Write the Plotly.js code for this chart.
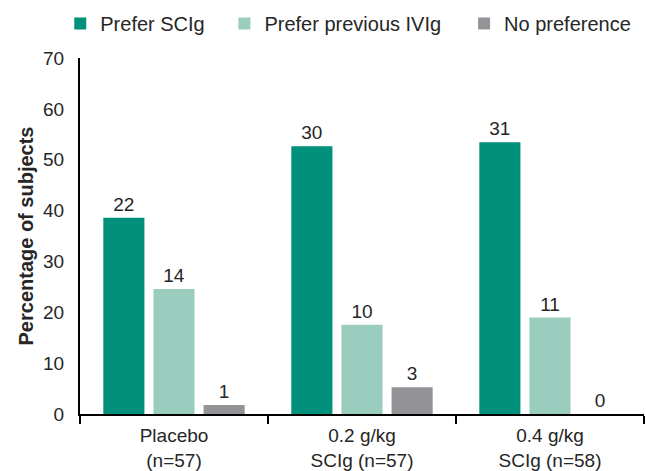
<!DOCTYPE html>
<html>
<head>
<meta charset="utf-8">
<script src="https://cdn.plot.ly/plotly-3.0.1.min.js"></script>
<style>
  html, body { margin: 0; padding: 0; background: #fff; }
  #chart { width: 646px; height: 471px; }
</style>
</head>
<body>
<div id="chart"></div>
<script>
// ---- data ----
const categories = ['Placebo<br>(n=57)', '0.2 g/kg<br>SCIg (n=57)', '0.4 g/kg<br>SCIg (n=58)'];
const nSubjects = [57, 57, 58];
const preferSCIg = [22, 30, 31];
const preferIVIg = [14, 10, 11];
const noPreference = [1, 3, 0];
const seriesNames = ['Prefer SCIg', 'Prefer previous IVIg', 'No preference'];
const yTicks = [0, 10, 20, 30, 40, 50, 60, 70];

const FONT = 'Liberation Sans, Arial, Helvetica, sans-serif';
const TXT = '#262626';
const colors = ['#00907B', '#9BCDBF', '#949498'];
const legendIds = ['legend', 'legend2', 'legend3'];
const legendX = [-0.035, 0.256, 0.681];

function pct(counts) { return counts.map((c, i) => c / nSubjects[i] * 100); }

const seriesCounts = [preferSCIg, preferIVIg, noPreference];
const traces = seriesCounts.map((counts, k) => ({
  type: 'bar',
  name: seriesNames[k],
  legend: legendIds[k],
  x: categories,
  y: pct(counts),
  text: counts.map(String),
  textposition: 'outside',
  textfont: { family: FONT, size: 19, color: TXT },
  cliponaxis: false,
  marker: { color: colors[k], line: { width: 0 } },
  hoverinfo: 'skip'
}));

const layout = {
  width: 646,
  height: 471,
  margin: { l: 80, r: 2, t: 58, b: 57, pad: 0 },
  paper_bgcolor: '#fff',
  plot_bgcolor: '#fff',
  font: { family: FONT, size: 19, color: TXT },
  barmode: 'group',
  bargap: 0.2,
  bargroupgap: 0.18,
  showlegend: true,
  xaxis: {
    type: 'category',
    range: [-0.5, 2.5],
    showline: true, linecolor: '#000', linewidth: 2,
    ticks: 'outside', tickson: 'boundaries', ticklen: 8, tickwidth: 2, tickcolor: '#000',
    ticklabelstandoff: 3,
    tickfont: { family: FONT, size: 19, color: TXT },
    showgrid: false, zeroline: false, fixedrange: true
  },
  yaxis: {
    range: [0, 70],
    tickvals: yTicks,
    ticktext: yTicks.map(String),
    showline: true, linecolor: '#000', linewidth: 2,
    ticks: '', ticklabelstandoff: 10,
    tickfont: { family: FONT, size: 19, color: TXT },
    showgrid: false, zeroline: false, fixedrange: true,
    title: { text: '<b>Percentage of subjects</b>', font: { family: FONT, size: 20, color: TXT }, standoff: 4 }
  }
};

legendIds.forEach((id, k) => {
  layout[id] = {
    orientation: 'h',
    x: legendX[k], xanchor: 'left',
    y: 1.097, yanchor: 'middle',
    font: { family: FONT, size: 20, color: TXT },
    bgcolor: 'rgba(0,0,0,0)',
    itemclick: false
  };
});

Plotly.newPlot('chart', traces, layout, { staticPlot: true, displayModeBar: false });
</script>
</body>
</html>
